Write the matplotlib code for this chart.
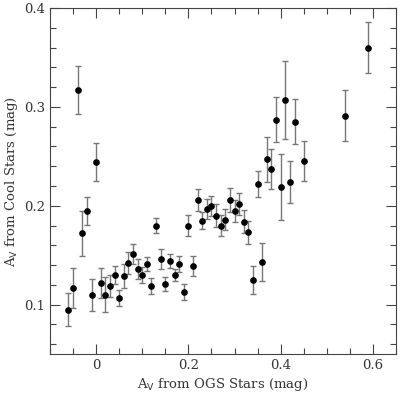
import matplotlib
matplotlib.use("Agg")
import matplotlib.pyplot as plt
from matplotlib.ticker import MultipleLocator, FuncFormatter

av_ogs = [-0.06, -0.05, -0.04, -0.03, -0.02, -0.01, 0.00, 0.01, 0.02, 0.03,
          0.04, 0.05, 0.06, 0.07, 0.08, 0.09, 0.10, 0.11, 0.12, 0.13,
          0.14, 0.15, 0.16, 0.17, 0.18, 0.19, 0.20, 0.21, 0.22, 0.23,
          0.24, 0.25, 0.26, 0.27, 0.28, 0.29, 0.30, 0.31, 0.32, 0.33,
          0.34, 0.35, 0.36, 0.37, 0.38, 0.39, 0.40, 0.41, 0.42, 0.43,
          0.45, 0.54, 0.59]
av_cool = [0.095, 0.117, 0.317, 0.172, 0.195, 0.110, 0.244, 0.122, 0.110, 0.119,
           0.130, 0.107, 0.129, 0.142, 0.151, 0.136, 0.130, 0.141, 0.119, 0.180,
           0.146, 0.121, 0.144, 0.130, 0.141, 0.113, 0.180, 0.139, 0.206, 0.185,
           0.197, 0.200, 0.190, 0.180, 0.186, 0.206, 0.195, 0.202, 0.184, 0.173,
           0.125, 0.222, 0.143, 0.247, 0.237, 0.287, 0.219, 0.307, 0.224, 0.285,
           0.245, 0.291, 0.360]
av_cool_err = [0.017, 0.020, 0.024, 0.023, 0.014, 0.016, 0.019, 0.015, 0.018, 0.011,
               0.009, 0.008, 0.012, 0.011, 0.010, 0.010, 0.008, 0.007, 0.008, 0.008,
               0.010, 0.007, 0.007, 0.006, 0.008, 0.008, 0.011, 0.010, 0.011, 0.009,
               0.010, 0.010, 0.012, 0.011, 0.011, 0.012, 0.011, 0.011, 0.012, 0.012,
               0.014, 0.013, 0.019, 0.023, 0.020, 0.023, 0.033, 0.039, 0.021, 0.023,
               0.020, 0.026, 0.026]

plt.rcParams['font.family'] = ['DejaVu Serif']

fig = plt.figure(figsize=(4.0, 3.93), dpi=100)
ax = fig.add_axes([0.125, 0.0992, 0.865, 0.8804])

ax.errorbar(av_ogs, av_cool, yerr=av_cool_err, fmt='o', color='black',
            markersize=3.8, ecolor='#777777', elinewidth=1.0, capsize=2.2,
            capthick=1.0)

ax.set_xlim(-0.1, 0.65)
ax.set_ylim(0.05, 0.4)
ax.xaxis.set_major_locator(MultipleLocator(0.2))
ax.xaxis.set_minor_locator(MultipleLocator(0.05))
ax.yaxis.set_major_locator(MultipleLocator(0.1))
ax.yaxis.set_minor_locator(MultipleLocator(0.02))
fmt = FuncFormatter(lambda v, p: '0' if abs(v) < 1e-9 else f'{v:g}')
ax.xaxis.set_major_formatter(fmt)
ax.yaxis.set_major_formatter(fmt)

ax.tick_params(which='both', direction='in', top=True, right=True,
               color='#444444', labelsize=9.5, labelcolor='#333333')
ax.tick_params(which='major', length=7, width=0.8)
ax.tick_params(which='minor', length=4, width=0.8)
for s in ax.spines.values():
    s.set_color('#444444')
    s.set_linewidth(0.8)

ax.set_xlabel(r'A$_{\rm V}$ from OGS Stars (mag)', fontsize=9.5, color='#333333', labelpad=3)
ax.set_ylabel(r'A$_{\rm V}$ from Cool Stars (mag)', fontsize=9.5, color='#333333', labelpad=3)

fig.savefig('out.png', dpi=100)
